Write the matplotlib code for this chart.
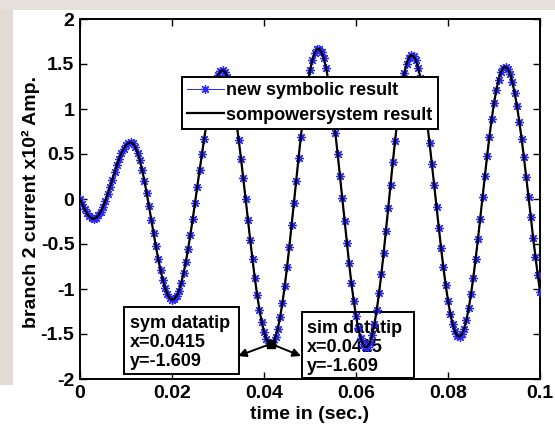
import numpy as np
import matplotlib
matplotlib.use("Agg")
import matplotlib.pyplot as plt
from matplotlib.patches import Rectangle

plt.rcParams['font.family'] = ['Liberation Sans', 'DejaVu Sans']
plt.rcParams['font.weight'] = 'bold'

# ---- data (branch 2 current, x10^2 A) sampled every 0.5 ms ----
current = [
    0.0, -0.059, -0.113, -0.160, -0.194, -0.215, -0.220, -0.208, -0.182, -0.141,
    -0.087, -0.022, 0.052, 0.131, 0.213, 0.295, 0.373, 0.446, 0.509, 0.560,
    0.598, 0.622, 0.630, 0.617, 0.578, 0.515, 0.429, 0.324, 0.202, 0.065,
    -0.080, -0.230, -0.380, -0.527, -0.665, -0.790, -0.900, -0.990, -1.057, -1.101,
    -1.120, -1.112, -1.077, -1.018, -0.934, -0.827, -0.700, -0.555, -0.395, -0.225,
    -0.046, 0.137, 0.320, 0.500, 0.672, 0.833, 0.981, 1.112, 1.224, 1.313,
    1.377, 1.417, 1.430, 1.413, 1.361, 1.277, 1.161, 1.017, 0.848, 0.657,
    0.449, 0.229, 0.002, -0.228, -0.454, -0.672, -0.877, -1.064, -1.228, -1.366,
    -1.475, -1.554, -1.599, -1.609, -1.590, -1.533, -1.440, -1.313, -1.155, -0.970,
    -0.760, -0.533, -0.292, -0.045, 0.205, 0.451, 0.686, 0.907, 1.107, 1.284,
    1.429, 1.541, 1.622, 1.663, 1.667, 1.633, 1.562, 1.456, 1.317, 1.148,
    0.954, 0.736, 0.505, 0.260, 0.010, -0.240, -0.485, -0.716, -0.935, -1.128,
    -1.297, -1.436, -1.542, -1.613, -1.647, -1.643, -1.598, -1.514, -1.392, -1.236,
    -1.049, -0.838, -0.605, -0.358, -0.102, 0.155, 0.408, 0.650, 0.875, 1.078,
    1.253, 1.395, 1.502, 1.571, 1.599, 1.588, 1.541, 1.459, 1.344, 1.199,
    1.026, 0.832, 0.617, 0.390, 0.154, -0.085, -0.320, -0.547, -0.761, -0.957,
    -1.129, -1.273, -1.389, -1.471, -1.518, -1.529, -1.503, -1.441, -1.345, -1.215,
    -1.057, -0.873, -0.669, -0.449, -0.218, 0.017, 0.251, 0.478, 0.693, 0.889,
    1.064, 1.211, 1.327, 1.410, 1.458, 1.469, 1.445, 1.388, 1.298, 1.178,
    1.031, 0.860, 0.669, 0.464, 0.247, 0.025, -0.197, -0.430, -0.640, -0.840,
    -1.030,
]
time_s = np.linspace(0.0, 0.1, len(current))
sym_current = current          # new symbolic result
sim_current = current          # simpowersystem result

series_labels = ['new symbolic result', 'sompowersystem result']
xticks = [0, 0.02, 0.04, 0.06, 0.08, 0.1]
xtick_labels = ['0', '0.02', '0.04', '0.06', '0.08', '0.1']
yticks = [-2, -1.5, -1, -0.5, 0, 0.5, 1, 1.5, 2]
ytick_labels = ['-2', '-1.5', '-1', '-0.5', '0', '0.5', '1', '1.5', '2']
datatip_t = 0.0415
datatip_y = -1.609

# ---- figure ----
W, H = 555, 425
fig = plt.figure(figsize=(W / 100, H / 100), dpi=100, facecolor='white')
# blurred photo border strips
fig.patches.append(Rectangle((0, 1 - 10 / H), 1, 10 / H, transform=fig.transFigure,
                             facecolor='#e6e0da', edgecolor='none', zorder=0))
fig.patches.append(Rectangle((0, 40 / H), 13 / W, 1 - 50 / H, transform=fig.transFigure,
                             facecolor='#e2dbd3', edgecolor='none', zorder=0))

ax = fig.add_axes([80 / W, 1 - 379 / H, 460 / W, 360 / H])

ax.plot(time_s, sym_current, '-', marker=(8, 2, 0), color='#2a2aff', lw=0.7,
        ms=6.5, mew=0.9, label=series_labels[0], zorder=3)
ax.plot(time_s, sim_current, '-', color='black', lw=1.6,
        label=series_labels[1], zorder=4)

ax.set_xlim(0, 0.1)
ax.set_ylim(-2, 2)
ax.set_xticks(xticks)
ax.set_xticklabels(xtick_labels)
ax.set_yticks(yticks)
ax.set_yticklabels(ytick_labels)
ax.tick_params(direction='in', top=True, right=True, length=5, width=1.0,
               labelsize=14, pad=4)
for s in ax.spines.values():
    s.set_linewidth(1.4)

ax.set_xlabel('time in (sec.)', fontsize=14, fontweight='bold')
ax.xaxis.set_label_coords(0.5, -0.075)
ax.set_ylabel('branch 2 current x10² Amp.', fontsize=14, fontweight='bold')
ax.yaxis.set_label_coords(-0.087, 0.493)

leg = ax.legend(loc='upper left', bbox_to_anchor=(0.2217, 0.839),
                borderaxespad=0, fancybox=False, framealpha=1,
                edgecolor='black', fontsize=13, handlelength=2.0,
                handletextpad=0.15, borderpad=0.3, labelspacing=0.4)
leg.get_frame().set_linewidth(1.4)
leg.set_zorder(10)

# datatip marker
ax.plot([datatip_t], [datatip_y], 's', color='black', ms=6, zorder=6)

# datatip boxes (axes fraction coordinates)
box1 = Rectangle((0.0957, 0.0139), 0.25, 0.1861, transform=ax.transAxes,
                 facecolor='white', edgecolor='black', lw=1.4, zorder=7)
ax.add_patch(box1)
ax.text(0.0957 + 0.013, 0.2 - 0.022, 'sym datatip\nx=%.4f\ny=%.3f' % (datatip_t, datatip_y),
        transform=ax.transAxes, ha='left', va='top', fontsize=13,
        linespacing=1.15, zorder=8)

box2 = Rectangle((0.4826, 0.0028), 0.2435, 0.1833, transform=ax.transAxes,
                 facecolor='white', edgecolor='black', lw=1.4, zorder=1)
ax.add_patch(box2)
ax.text(0.4826 + 0.011, 0.1861 - 0.022, 'sim datatip\nx=%.4f\ny=%.3f' % (datatip_t, datatip_y),
        transform=ax.transAxes, ha='left', va='top', fontsize=13,
        linespacing=1.15, zorder=2)

for tip in [(0.3435, 0.0639), (0.4804, 0.0639)]:
    ax.annotate('', xy=tip, xycoords='axes fraction',
                xytext=(datatip_t, datatip_y), textcoords='data',
                arrowprops=dict(arrowstyle='-|>', color='black', lw=1.4,
                                mutation_scale=12, shrinkA=0, shrinkB=0),
                zorder=9)

fig.savefig('out.png', dpi=100, facecolor=fig.get_facecolor())
